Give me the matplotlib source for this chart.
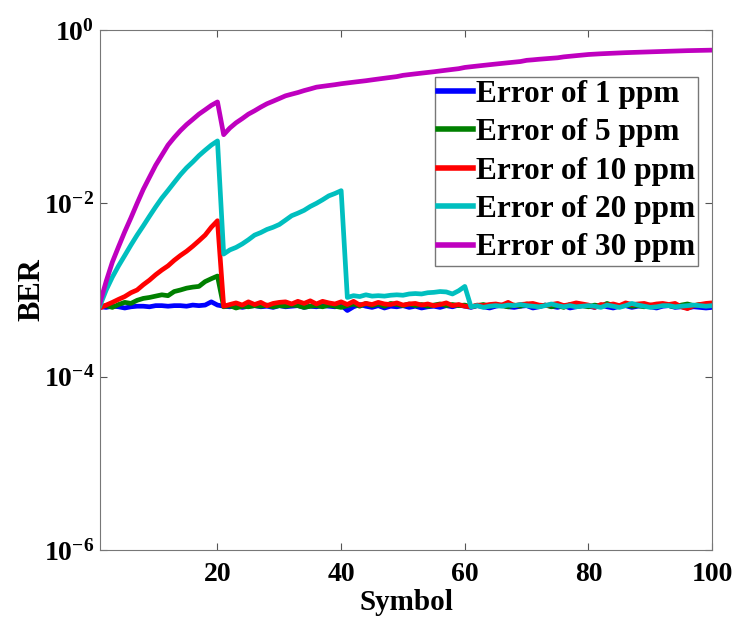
import matplotlib
matplotlib.use("Agg")
import matplotlib.pyplot as plt
import numpy as np

plt.rcParams['font.family'] = ['Liberation Serif', 'DejaVu Serif']
plt.rcParams['font.weight'] = 'bold'
plt.rcParams['mathtext.fontset'] = 'custom'
plt.rcParams['mathtext.rm'] = 'Liberation Serif:bold'
plt.rcParams['mathtext.it'] = 'Liberation Serif:bold'
plt.rcParams['mathtext.bf'] = 'Liberation Serif:bold'

symbols = np.arange(1, 101)

ber_1ppm = [
    6.4e-4, 6.3e-4, 6.5e-4, 6.4e-4, 6.2e-4, 6.4e-4, 6.5e-4, 6.5e-4, 6.4e-4, 6.6e-4,
    6.6e-4, 6.5e-4, 6.6e-4, 6.6e-4, 6.5e-4, 6.7e-4, 6.6e-4, 6.7e-4, 7.3e-4, 6.7e-4,
    6.5e-4, 6.4e-4, 6.6e-4, 6.3e-4, 6.5e-4, 6.6e-4, 6.4e-4, 6.5e-4, 6.3e-4, 6.6e-4,
    6.4e-4, 6.5e-4, 6.6e-4, 6.3e-4, 6.5e-4, 6.4e-4, 6.6e-4, 6.5e-4, 6.4e-4, 6.7e-4,
    5.8e-4, 6.4e-4, 6.8e-4, 6.5e-4, 6.3e-4, 6.6e-4, 6.2e-4, 6.5e-4, 6.4e-4, 6.6e-4,
    6.3e-4, 6.5e-4, 6.2e-4, 6.4e-4, 6.5e-4, 6.3e-4, 6.6e-4, 6.4e-4, 6.7e-4, 6.5e-4,
    6.3e-4, 6.6e-4, 6.4e-4, 6.2e-4, 6.5e-4, 6.7e-4, 6.4e-4, 6.3e-4, 6.5e-4, 6.6e-4,
    6.2e-4, 6.4e-4, 6.7e-4, 6.5e-4, 6.3e-4, 6.6e-4, 6.2e-4, 6.4e-4, 6.6e-4, 6.5e-4,
    6.3e-4, 6.7e-4, 6.4e-4, 6.2e-4, 6.5e-4, 6.6e-4, 6.3e-4, 6.5e-4, 6.6e-4, 6.4e-4,
    6.2e-4, 6.5e-4, 6.6e-4, 6.3e-4, 6.4e-4, 6.2e-4, 6.4e-4, 6.3e-4, 6.2e-4, 6.3e-4,
]

ber_5ppm = [
    6.5e-4, 6.6e-4, 6.3e-4, 6.8e-4, 7.2e-4, 7.0e-4, 7.6e-4, 8.0e-4, 8.2e-4, 8.5e-4,
    8.8e-4, 8.6e-4, 9.6e-4, 1.0e-3, 1.05e-3, 1.08e-3, 1.1e-3, 1.25e-3, 1.35e-3, 1.45e-3,
    6.4e-4, 6.6e-4, 6.2e-4, 6.5e-4, 6.4e-4, 6.6e-4, 6.5e-4, 6.7e-4, 6.4e-4, 6.6e-4,
    6.5e-4, 6.7e-4, 6.6e-4, 6.3e-4, 6.5e-4, 6.6e-4, 6.4e-4, 6.7e-4, 6.5e-4, 6.3e-4,
    6.6e-4, 6.9e-4, 6.5e-4, 7.0e-4, 6.6e-4, 6.9e-4, 6.5e-4, 7.0e-4, 6.8e-4, 6.6e-4,
    6.9e-4, 6.6e-4, 6.8e-4, 6.5e-4, 6.7e-4, 6.9e-4, 6.6e-4, 6.8e-4, 6.6e-4, 6.7e-4,
    6.4e-4, 6.6e-4, 6.8e-4, 6.5e-4, 6.7e-4, 6.6e-4, 6.4e-4, 6.7e-4, 6.5e-4, 6.9e-4,
    6.6e-4, 6.5e-4, 6.7e-4, 6.4e-4, 6.6e-4, 6.3e-4, 6.8e-4, 6.5e-4, 6.6e-4, 6.4e-4,
    6.7e-4, 6.5e-4, 7.0e-4, 6.6e-4, 6.4e-4, 6.8e-4, 6.5e-4, 6.6e-4, 6.4e-4, 6.7e-4,
    6.5e-4, 6.8e-4, 6.6e-4, 6.4e-4, 6.7e-4, 6.9e-4, 6.6e-4, 6.8e-4, 6.7e-4, 6.9e-4,
]

ber_10ppm = [
    6.2e-4, 6.7e-4, 7.2e-4, 7.8e-4, 8.4e-4, 9.3e-4, 1.0e-3, 1.15e-3, 1.3e-3, 1.5e-3,
    1.7e-3, 1.9e-3, 2.2e-3, 2.5e-3, 2.8e-3, 3.2e-3, 3.7e-3, 4.3e-3, 5.3e-3, 6.3e-3,
    6.5e-4, 6.8e-4, 7.1e-4, 6.7e-4, 7.3e-4, 6.8e-4, 7.2e-4, 6.6e-4, 7.0e-4, 7.2e-4,
    7.3e-4, 6.9e-4, 7.4e-4, 7.0e-4, 7.5e-4, 6.9e-4, 7.4e-4, 7.1e-4, 6.9e-4, 7.3e-4,
    6.8e-4, 7.4e-4, 6.7e-4, 7.0e-4, 6.8e-4, 7.2e-4, 6.9e-4, 6.8e-4, 7.1e-4, 6.7e-4,
    6.9e-4, 7.0e-4, 6.7e-4, 6.9e-4, 6.6e-4, 6.8e-4, 7.1e-4, 6.6e-4, 6.8e-4, 6.5e-4,
    6.4e-4, 6.7e-4, 6.6e-4, 6.8e-4, 6.9e-4, 6.7e-4, 7.2e-4, 6.6e-4, 6.8e-4, 6.9e-4,
    7.0e-4, 6.7e-4, 6.6e-4, 6.8e-4, 7.0e-4, 6.6e-4, 6.8e-4, 7.1e-4, 6.9e-4, 6.7e-4,
    6.3e-4, 6.8e-4, 6.7e-4, 6.9e-4, 6.6e-4, 7.1e-4, 6.8e-4, 6.9e-4, 7.0e-4, 6.7e-4,
    6.9e-4, 7.0e-4, 6.8e-4, 7.0e-4, 6.4e-4, 6.1e-4, 6.6e-4, 6.8e-4, 7.0e-4, 7.1e-4,
]

ber_20ppm = [
    6.6e-4, 1.0e-3, 1.41e-3, 1.9e-3, 2.5e-3, 3.3e-3, 4.3e-3, 5.5e-3, 7.1e-3, 9.1e-3,
    1.15e-2, 1.41e-2, 1.74e-2, 2.14e-2, 2.57e-2, 3.0e-2, 3.55e-2, 4.1e-2, 4.7e-2, 5.25e-2,
    2.6e-3, 2.9e-3, 3.1e-3, 3.4e-3, 3.8e-3, 4.3e-3, 4.6e-3, 5.0e-3, 5.3e-3, 5.7e-3,
    6.4e-3, 7.2e-3, 7.7e-3, 8.3e-3, 9.2e-3, 1.0e-2, 1.1e-2, 1.22e-2, 1.3e-2, 1.4e-2,
    8.2e-4, 8.6e-4, 8.4e-4, 8.8e-4, 8.5e-4, 8.6e-4, 8.5e-4, 8.7e-4, 8.8e-4, 8.7e-4,
    9.0e-4, 9.1e-4, 9.0e-4, 9.3e-4, 9.4e-4, 9.6e-4, 9.5e-4, 9.0e-4, 9.8e-4, 1.1e-3,
    6.4e-4, 6.6e-4, 6.3e-4, 6.5e-4, 6.6e-4, 6.5e-4, 6.7e-4, 6.6e-4, 6.8e-4, 6.6e-4,
    6.5e-4, 6.4e-4, 6.6e-4, 6.9e-4, 6.6e-4, 6.4e-4, 6.6e-4, 6.4e-4, 6.5e-4, 6.6e-4,
    6.5e-4, 6.3e-4, 6.7e-4, 6.5e-4, 6.3e-4, 6.6e-4, 7.0e-4, 6.7e-4, 6.5e-4, 6.3e-4,
    6.4e-4, 6.6e-4, 6.6e-4, 6.4e-4, 6.5e-4, 6.6e-4, 6.7e-4, 6.6e-4, 6.5e-4, 6.6e-4,
]

ber_30ppm = [
    7.1e-4, 1.26e-3, 2.1e-3, 3.16e-3, 4.7e-3, 6.8e-3, 1.0e-2, 1.45e-2, 2.0e-2, 2.75e-2,
    3.6e-2, 4.7e-2, 5.75e-2, 6.9e-2, 8.1e-2, 9.3e-2, 0.107, 0.12, 0.135, 0.148,
    0.062, 0.074, 0.085, 0.095, 0.107, 0.117, 0.129, 0.141, 0.151, 0.162,
    0.174, 0.182, 0.19, 0.2, 0.209, 0.219, 0.224, 0.229, 0.234, 0.24,
    0.245, 0.25, 0.255, 0.26, 0.266, 0.272, 0.278, 0.284, 0.29, 0.30,
    0.306, 0.312, 0.318, 0.324, 0.33, 0.337, 0.344, 0.351, 0.358, 0.37,
    0.377, 0.384, 0.391, 0.398, 0.405, 0.412, 0.419, 0.426, 0.433, 0.447,
    0.453, 0.46, 0.466, 0.472, 0.478, 0.49, 0.498, 0.506, 0.514, 0.522,
    0.527, 0.532, 0.536, 0.54, 0.544, 0.548, 0.551, 0.554, 0.557, 0.56,
    0.563, 0.566, 0.569, 0.572, 0.575, 0.578, 0.58, 0.582, 0.584, 0.586,
]

series = [
    ("Error of 1 ppm", ber_1ppm, "#0000ff"),
    ("Error of 5 ppm", ber_5ppm, "#008000"),
    ("Error of 10 ppm", ber_10ppm, "#ff0000"),
    ("Error of 20 ppm", ber_20ppm, "#00bfbf"),
    ("Error of 30 ppm", ber_30ppm, "#bf00bf"),
]

fig = plt.figure(figsize=(7.38, 6.19), dpi=100)
ax = fig.add_axes([0.1355, 0.1115, 0.8295, 0.84])

for label, vals, color in series:
    ax.plot(symbols, vals, color=color, linewidth=3.4, label=label)

ax.set_yscale('log')
ax.set_xlim(1, 100)
ax.set_ylim(1e-6, 1)
ax.set_xticks([20, 40, 60, 80, 100])
ax.set_yticks([1e-6, 1e-4, 1e-2, 1])
ax.set_yticklabels([r'$10^{-6}$', r'$10^{-4}$', r'$10^{-2}$', r'$10^{0}$'])
ax.minorticks_off()
ax.tick_params(direction='in', top=True, right=True, labelsize=20, length=5,
               color='#555555')
ax.tick_params(axis='x', pad=9)
ax.tick_params(axis='y', pad=4)
for lab in ax.get_xticklabels():
    lab.set_fontweight('bold')
for s in ax.spines.values():
    s.set_color('#777777')

ax.set_xlabel("Symbol", fontsize=21, fontweight='bold', labelpad=1)
ax.set_ylabel("BER", fontsize=22, fontweight='bold', labelpad=-2)

leg = ax.legend(loc='upper right', bbox_to_anchor=(0.977, 0.91),
                prop={'weight': 'bold', 'size': 22.5}, handlelength=1.1,
                handletextpad=0.1, labelspacing=0.3, borderpad=0.1,
                fancybox=False, framealpha=1, borderaxespad=0)
leg.get_frame().set_edgecolor('#777777')
leg.get_frame().set_linewidth(1)
for h in leg.get_lines():
    h.set_linewidth(4)

fig.savefig("out.png", dpi=100)
